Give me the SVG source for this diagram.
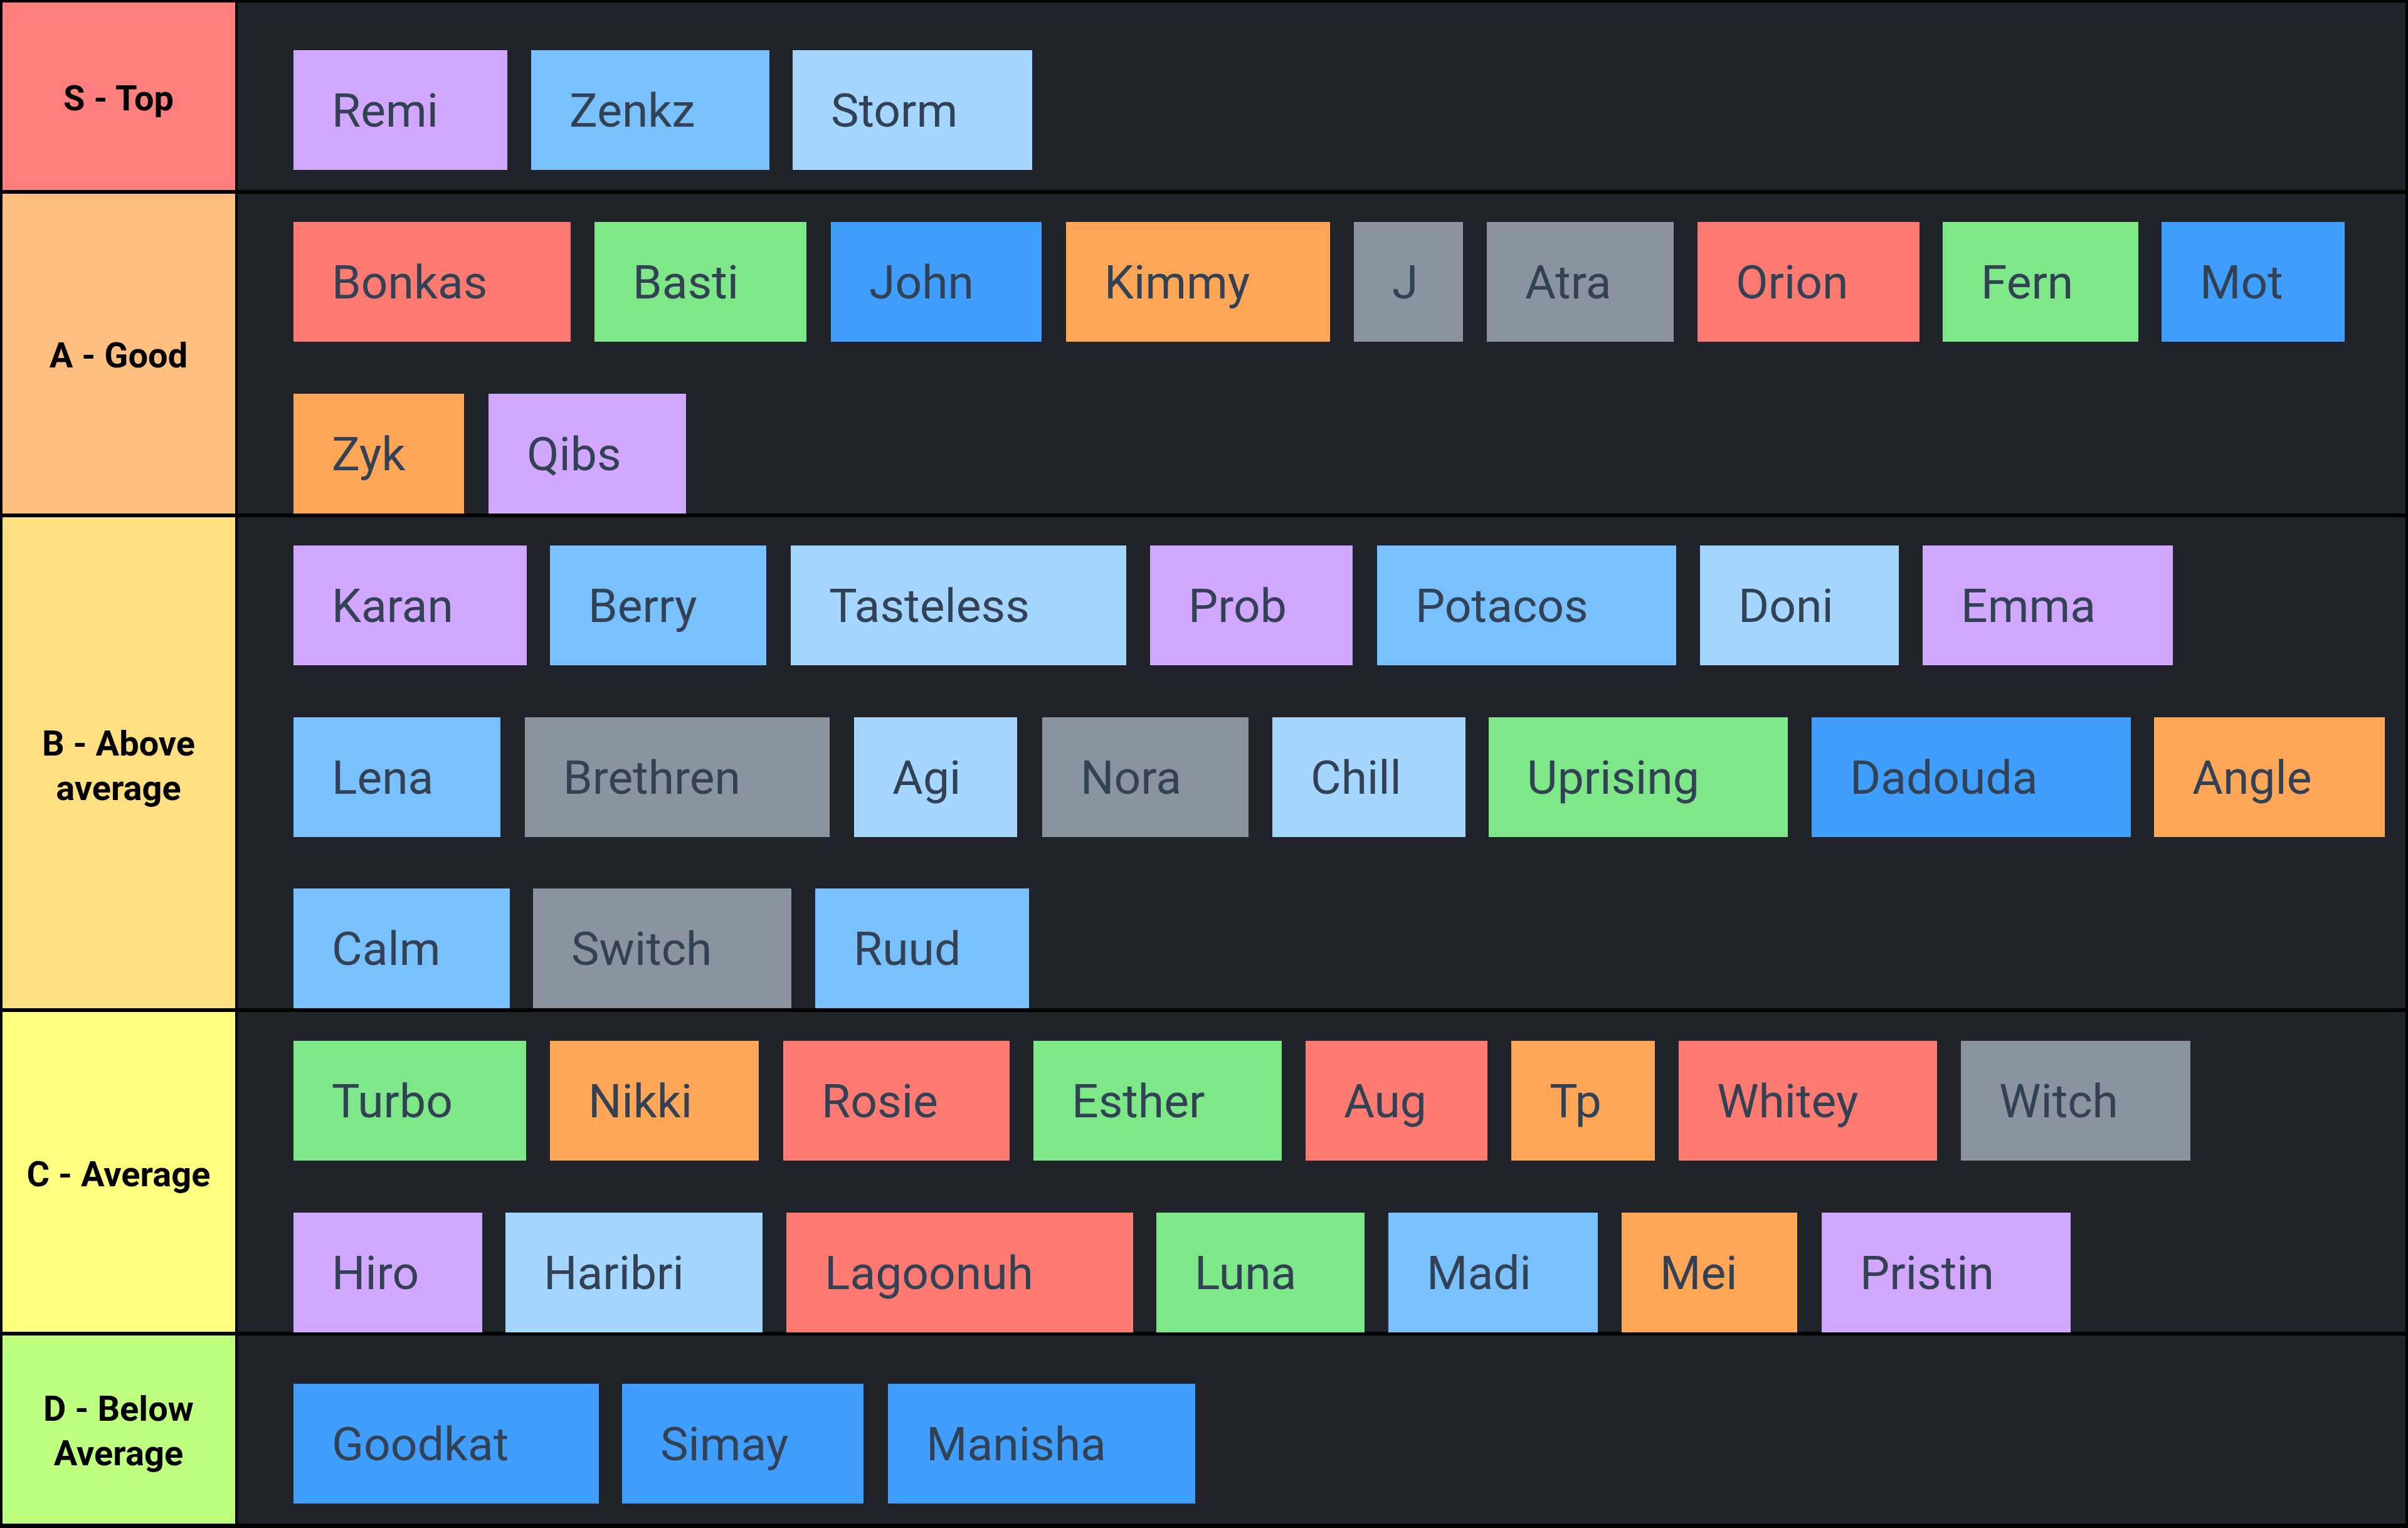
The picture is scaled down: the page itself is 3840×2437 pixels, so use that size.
<svg xmlns="http://www.w3.org/2000/svg" width="3840" height="2437" viewBox="0 0 3840 2437">
<style>
.lbl{font-family:Roboto,"Liberation Sans",sans-serif;font-weight:700;font-size:56px;fill:#000;text-anchor:middle}
.t{font-family:Roboto,"Liberation Sans",sans-serif;font-size:75px;fill:#334155}
.bg{fill:#20232a}
.pu{fill:#d2a8ff}.sk{fill:#79c0ff}.lb{fill:#a5d6ff}.rd{fill:#ff7b72}.gr{fill:#7ee787}.bl{fill:#409eff}.or{fill:#ffa657}.gy{fill:#8b949e}
</style>
<rect width="3840" height="2437" fill="#000"/>
<g id="tier-S">
<rect x="4" y="4" width="371" height="299" fill="#ff7f7f"/>
<rect class="bg" x="379" y="4" width="3457" height="299"/>
<text class="lbl" x="189" y="176">S - Top</text>
</g>
<g id="tier-A">
<rect x="4" y="309" width="371" height="510" fill="#ffbf7f"/>
<rect class="bg" x="379" y="309" width="3457" height="510"/>
<text class="lbl" x="189" y="586">A - Good</text>
</g>
<g id="tier-B">
<rect x="4" y="825" width="371" height="783" fill="#ffdf7f"/>
<rect class="bg" x="379" y="825" width="3457" height="783"/>
<text class="lbl" x="189" y="1205">B - Above</text>
<text class="lbl" x="189" y="1276">average</text>
</g>
<g id="tier-C">
<rect x="4" y="1614" width="371" height="510" fill="#ffff7f"/>
<rect class="bg" x="379" y="1614" width="3457" height="510"/>
<text class="lbl" x="189" y="1892">C - Average</text>
</g>
<g id="tier-D">
<rect x="4" y="2130" width="371" height="300" fill="#bfff7f"/>
<rect class="bg" x="379" y="2130" width="3457" height="300"/>
<text class="lbl" x="189" y="2266">D - Below</text>
<text class="lbl" x="189" y="2337">Average</text>
</g>
<g id="items">
<g id="remi"><rect class="pu" x="468" y="80" width="341" height="191"/><text class="t" x="529" y="202">Remi</text></g>
<g id="zenkz"><rect class="sk" x="847" y="80" width="380" height="191"/><text class="t" x="908" y="202">Zenkz</text></g>
<g id="storm"><rect class="lb" x="1264" y="80" width="382" height="191"/><text class="t" x="1325" y="202">Storm</text></g>

<g id="bonkas"><rect class="rd" x="468" y="354" width="442" height="191"/><text class="t" x="529" y="476">Bonkas</text></g>
<g id="basti"><rect class="gr" x="948" y="354" width="338" height="191"/><text class="t" x="1009" y="476">Basti</text></g>
<g id="john"><rect class="bl" x="1325" y="354" width="336" height="191"/><text class="t" x="1386" y="476">John</text></g>
<g id="kimmy"><rect class="or" x="1700" y="354" width="421" height="191"/><text class="t" x="1761" y="476">Kimmy</text></g>
<g id="j"><rect class="gy" x="2159" y="354" width="174" height="191"/><text class="t" x="2220" y="476">J</text></g>
<g id="atra"><rect class="gy" x="2371" y="354" width="298" height="191"/><text class="t" x="2432" y="476">Atra</text></g>
<g id="orion"><rect class="rd" x="2707" y="354" width="354" height="191"/><text class="t" x="2768" y="476">Orion</text></g>
<g id="fern"><rect class="gr" x="3098" y="354" width="312" height="191"/><text class="t" x="3159" y="476">Fern</text></g>
<g id="mot"><rect class="bl" x="3447" y="354" width="292" height="191"/><text class="t" x="3508" y="476">Mot</text></g>
<g id="zyk"><rect class="or" x="468" y="628" width="272" height="191"/><text class="t" x="529" y="750">Zyk</text></g>
<g id="qibs"><rect class="pu" x="779" y="628" width="315" height="191"/><text class="t" x="840" y="750">Qibs</text></g>

<g id="karan"><rect class="pu" x="468" y="870" width="372" height="191"/><text class="t" x="529" y="992">Karan</text></g>
<g id="berry"><rect class="sk" x="877" y="870" width="345" height="191"/><text class="t" x="938" y="992">Berry</text></g>
<g id="tasteless"><rect class="lb" x="1261" y="870" width="535" height="191"/><text class="t" x="1322" y="992">Tasteless</text></g>
<g id="prob"><rect class="pu" x="1834" y="870" width="323" height="191"/><text class="t" x="1895" y="992">Prob</text></g>
<g id="potacos"><rect class="sk" x="2196" y="870" width="477" height="191"/><text class="t" x="2257" y="992">Potacos</text></g>
<g id="doni"><rect class="lb" x="2711" y="870" width="317" height="191"/><text class="t" x="2772" y="992">Doni</text></g>
<g id="emma"><rect class="pu" x="3066" y="870" width="399" height="191"/><text class="t" x="3127" y="992">Emma</text></g>
<g id="lena"><rect class="sk" x="468" y="1144" width="330" height="191"/><text class="t" x="529" y="1266">Lena</text></g>
<g id="brethren"><rect class="gy" x="837" y="1144" width="486" height="191"/><text class="t" x="898" y="1266">Brethren</text></g>
<g id="agi"><rect class="lb" x="1362" y="1144" width="260" height="191"/><text class="t" x="1423" y="1266">Agi</text></g>
<g id="nora"><rect class="gy" x="1662" y="1144" width="329" height="191"/><text class="t" x="1723" y="1266">Nora</text></g>
<g id="chill"><rect class="lb" x="2029" y="1144" width="308" height="191"/><text class="t" x="2090" y="1266">Chill</text></g>
<g id="uprising"><rect class="gr" x="2374" y="1144" width="477" height="191"/><text class="t" x="2435" y="1266">Uprising</text></g>
<g id="dadouda"><rect class="bl" x="2889" y="1144" width="509" height="191"/><text class="t" x="2950" y="1266">Dadouda</text></g>
<g id="angle"><rect class="or" x="3435" y="1144" width="368" height="191"/><text class="t" x="3496" y="1266">Angle</text></g>
<g id="calm"><rect class="sk" x="468" y="1417" width="345" height="191"/><text class="t" x="529" y="1539">Calm</text></g>
<g id="switch"><rect class="gy" x="850" y="1417" width="412" height="191"/><text class="t" x="911" y="1539">Switch</text></g>
<g id="ruud"><rect class="sk" x="1300" y="1417" width="341" height="191"/><text class="t" x="1361" y="1539">Ruud</text></g>

<g id="turbo"><rect class="gr" x="468" y="1660" width="371" height="191"/><text class="t" x="529" y="1782">Turbo</text></g>
<g id="nikki"><rect class="or" x="877" y="1660" width="333" height="191"/><text class="t" x="938" y="1782">Nikki</text></g>
<g id="rosie"><rect class="rd" x="1249" y="1660" width="361" height="191"/><text class="t" x="1310" y="1782">Rosie</text></g>
<g id="esther"><rect class="gr" x="1648" y="1660" width="396" height="191"/><text class="t" x="1709" y="1782">Esther</text></g>
<g id="aug"><rect class="rd" x="2082" y="1660" width="290" height="191"/><text class="t" x="2143" y="1782">Aug</text></g>
<g id="tp"><rect class="or" x="2410" y="1660" width="229" height="191"/><text class="t" x="2471" y="1782">Tp</text></g>
<g id="whitey"><rect class="rd" x="2677" y="1660" width="412" height="191"/><text class="t" x="2738" y="1782">Whitey</text></g>
<g id="witch"><rect class="gy" x="3127" y="1660" width="366" height="191"/><text class="t" x="3188" y="1782">Witch</text></g>
<g id="hiro"><rect class="pu" x="468" y="1934" width="301" height="191"/><text class="t" x="529" y="2056">Hiro</text></g>
<g id="haribri"><rect class="lb" x="806" y="1934" width="410" height="191"/><text class="t" x="867" y="2056">Haribri</text></g>
<g id="lagoonuh"><rect class="rd" x="1254" y="1934" width="553" height="191"/><text class="t" x="1315" y="2056">Lagoonuh</text></g>
<g id="luna"><rect class="gr" x="1844" y="1934" width="332" height="191"/><text class="t" x="1905" y="2056">Luna</text></g>
<g id="madi"><rect class="sk" x="2214" y="1934" width="334" height="191"/><text class="t" x="2275" y="2056">Madi</text></g>
<g id="mei"><rect class="or" x="2586" y="1934" width="280" height="191"/><text class="t" x="2647" y="2056">Mei</text></g>
<g id="pristin"><rect class="pu" x="2905" y="1934" width="397" height="191"/><text class="t" x="2966" y="2056">Pristin</text></g>

<g id="goodkat"><rect class="bl" x="468" y="2207" width="487" height="191"/><text class="t" x="529" y="2329">Goodkat</text></g>
<g id="simay"><rect class="bl" x="992" y="2207" width="385" height="191"/><text class="t" x="1053" y="2329">Simay</text></g>
<g id="manisha"><rect class="bl" x="1416" y="2207" width="490" height="191"/><text class="t" x="1477" y="2329">Manisha</text></g>
</g>
</svg>
